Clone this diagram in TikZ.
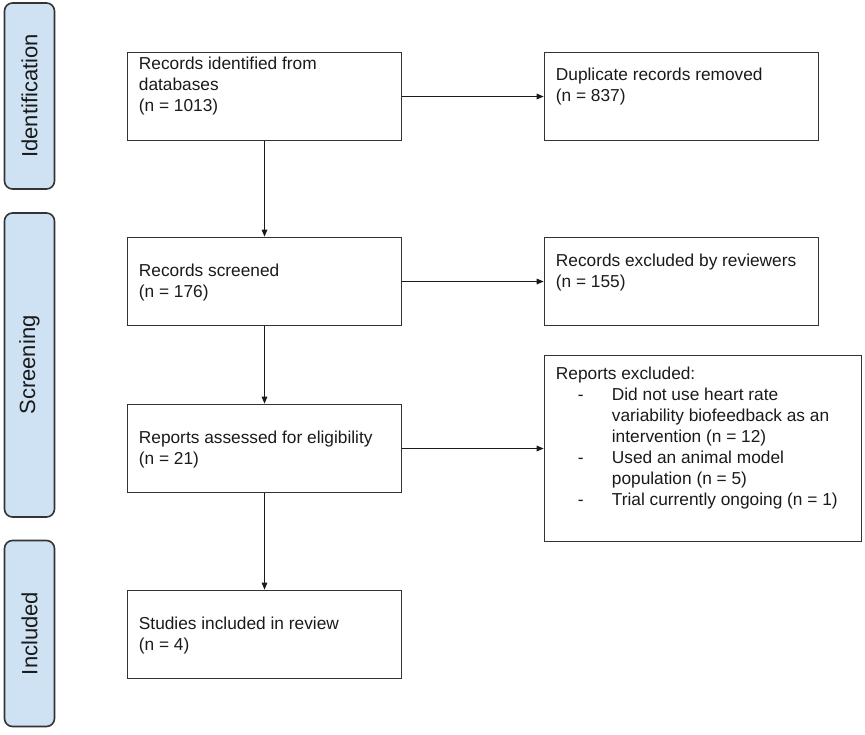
\documentclass[tikz,border=0pt]{standalone}
\usepackage{fontspec}
\setmainfont{Liberation Sans}
\usetikzlibrary{arrows.meta,calc}
\definecolor{barfill}{HTML}{CFE2F3}
\definecolor{edge}{HTML}{333333}
\definecolor{ink}{HTML}{1A1A1A}
\begin{document}
\begin{tikzpicture}[x=1pt,y=-1pt,
  box/.style={draw=edge,line width=1.6pt,rectangle,inner sep=0pt,minimum width=274pt},
  bar/.style={draw=edge,fill=barfill,line width=1.6pt,rectangle,rounded corners=8pt,inner sep=0pt,minimum width=50pt},
  lbl/.style={anchor=base west,inner sep=0pt,align=left,text=ink,font=\fontsize{17.3}{21}\selectfont},
  barlbl/.style={rotate=90,inner sep=0pt,text=ink,font=\fontsize{22}{26}\selectfont},
  arr/.style={draw=ink,line width=1.3pt,-{Triangle[length=7pt,width=5.5pt]}}]
\useasboundingbox (0,0) rectangle (865,734);
% side bars
\node[bar,minimum height=186pt] (sid) at (29.5,96) {};
\node[barlbl] (sidt) at (sid.center) {Identification};
\node[bar,minimum height=304pt] (ssc) at (29.5,365) {};
\node[barlbl] (ssct) at (ssc.center) {Screening};
\node[bar,minimum height=186pt] (sin) at (29.5,633.5) {};
\node[barlbl] (sint) at (sin.center) {Included};
% main boxes
\node[box,minimum height=88pt] (b1) at (264.5,96.5) {};
\node[box,minimum height=88pt] (b2) at (264.5,281.5) {};
\node[box,minimum height=88pt] (b3) at (264.5,448.5) {};
\node[box,minimum height=88pt] (b4) at (264.5,634.5) {};
% side boxes
\node[box,minimum height=88pt] (r1) at (681.5,96.5) {};
\node[box,minimum height=88pt] (r2) at (681.5,281.5) {};
\node[box,minimum width=317pt,minimum height=186pt] (r3) at (703,448.5) {};
% texts (anchor is the baseline of the last line)
\node[lbl] (t1) at ($(b1.north west)+(12,60)$) {Records identified from\\databases\\(n = 1013)};
\node[lbl] (t2) at ($(b2.north west)+(12,61)$) {Records screened\\(n = 176)};
\node[lbl] (t3) at ($(b3.north west)+(12,61)$) {Reports assessed for eligibility\\(n = 21)};
\node[lbl] (t4) at ($(b4.north west)+(12,61)$) {Studies included in review\\(n = 4)};
\node[lbl] (u1) at ($(r1.north west)+(12,50)$) {Duplicate records removed\\(n = 837)};
\node[lbl] (u2) at ($(r2.north west)+(12,51)$) {Records excluded by reviewers\\(n = 155)};
\node[lbl] (u3) at ($(r3.north west)+(12,151)$) {Reports excluded:\\
\hspace*{22pt}\makebox[34pt][l]{-}Did not use heart rate\\
\hspace*{56pt}variability biofeedback as an\\
\hspace*{56pt}intervention (n = 12)\\
\hspace*{22pt}\makebox[34pt][l]{-}Used an animal model\\
\hspace*{56pt}population (n = 5)\\
\hspace*{22pt}\makebox[34pt][l]{-}Trial currently ongoing (n = 1)};
% connectors
\draw[arr] (b1.south) -- (b2.north);
\draw[arr] (b2.south) -- (b3.north);
\draw[arr] (b3.south) -- (b4.north);
\draw[arr] (b1.east) -- (r1.west);
\draw[arr] (b2.east) -- (r2.west);
\draw[arr] (b3.east) -- (b3.east -| r3.west);
\end{tikzpicture}
\end{document}
